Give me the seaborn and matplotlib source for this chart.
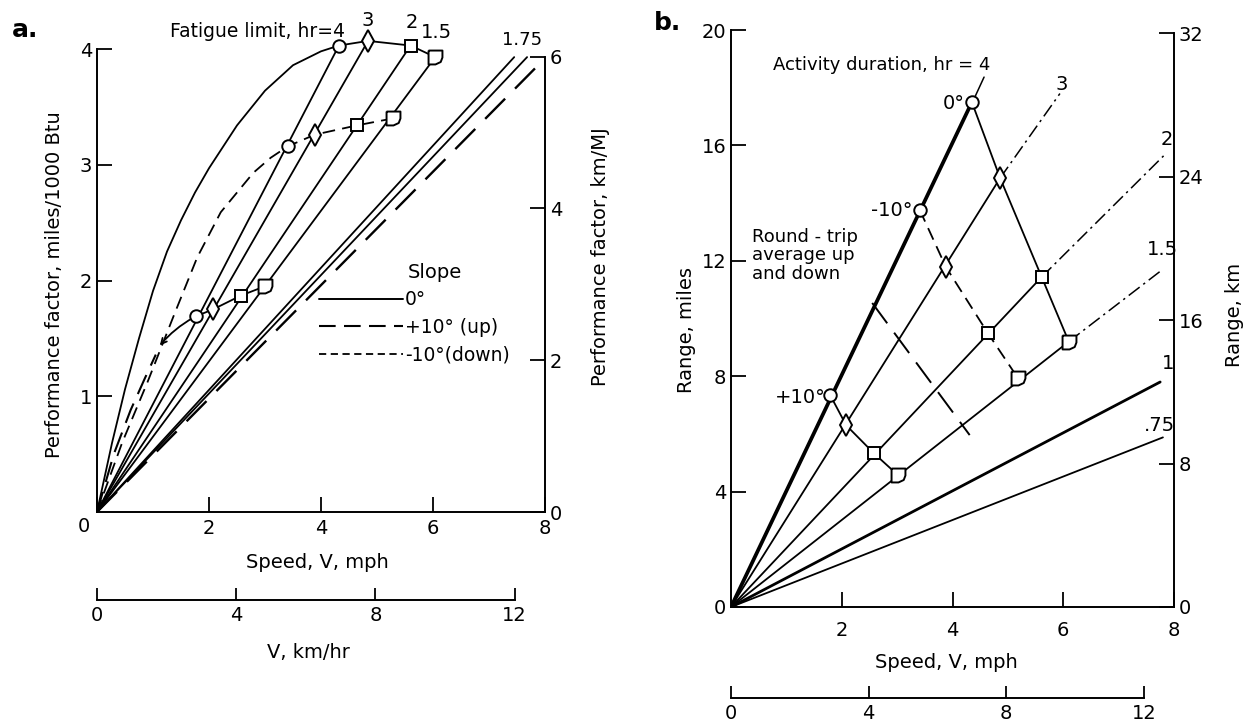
import matplotlib
matplotlib.use('Agg')
import matplotlib.pyplot as plt
from matplotlib.lines import Line2D
import seaborn as sns

# ---------------- panel a : performance factor (miles/1000 Btu) vs speed (mph)
# 0 deg slope curve (fatigue limit envelope)
level_v = [0, 0.27, 0.5, 0.75, 1.0, 1.25, 1.5, 1.75, 2.0, 2.5, 3.0, 3.5, 4.0, 4.32, 4.84, 5.6, 6.04]
level_pf = [0, 0.6, 1.06, 1.5, 1.91, 2.25, 2.52, 2.76, 2.97, 3.34, 3.64, 3.86, 3.98, 4.03, 4.07, 4.03, 3.93]
# -10 deg (down) curve
down_v = [0, 0.45, 0.9, 1.39, 1.79, 2.21, 2.5, 2.79, 3.1, 3.41, 3.89, 4.64, 5.28]
down_pf = [0, 0.6, 1.12, 1.72, 2.2, 2.59, 2.76, 2.93, 3.06, 3.16, 3.26, 3.34, 3.4]
# +10 deg (up) curve near origin
up_v = [0, 0.3, 0.6, 0.85, 1.05]
up_pf = [0, 0.5, 0.88, 1.15, 1.36]
# +10 deg fatigue points
up_pts_v = [1.76, 2.07, 2.57, 3.0]
up_pts_pf = [1.69, 1.75, 1.87, 1.95]
arrow_tip = (1.09, 1.42)
# rays from origin (fatigue limit hr = 4, 3, 2, 1.5)
ray_a_hr = ['4', '3', '2', '1.5']
ray_a_v = [4.32, 4.84, 5.6, 6.04]
ray_a_pf = [4.03, 4.07, 4.03, 3.93]
# the 1.75 pair and the long dashed ray
ray175_v = [7.45, 7.68]
ray175_pf = [3.93, 3.93]
ray_up_v = [8.0]
ray_up_pf = [3.92]

# ---------------- panel b : range (miles) vs speed (mph)
hours_b = ['4', '3', '2', '1.5', '1', '.75']
ray_b_v = [4.35, 5.94, 7.87, 7.78, 7.75, 7.8]
ray_b_r = [17.5, 17.8, 15.75, 11.68, 7.8, 5.88]
zero_v = [4.35, 4.86, 5.61, 6.1]
zero_r = [17.5, 14.87, 11.44, 9.2]
minus_v = [3.41, 3.88, 4.64, 5.18]
minus_r = [13.76, 11.79, 9.49, 7.94]
plus_v = [1.79, 2.08, 2.58, 3.01]
plus_r = [7.35, 6.3, 5.33, 4.58]
round_v = [2.55, 4.31]
round_r = [10.54, 5.96]

MI_KM = 1.609344
PF_KMMJ = 1.5253

sns.set_style('ticks')
plt.rcParams['font.family'] = ['DejaVu Sans']
plt.rcParams.update({'axes.linewidth': 1.4, 'text.color': 'k', 'axes.labelcolor': 'k',
                     'xtick.color': 'k', 'ytick.color': 'k', 'axes.edgecolor': 'k'})

W, H = 1248, 723
fig = plt.figure(figsize=(W / 100, H / 100), dpi=100)


def box(l, t, r, b):
    return [l / W, 1 - b / H, (r - l) / W, (b - t) / H]


def ftext(px, py, s, **kw):
    fig.text(px / W, 1 - py / H, s, **kw)


dshape = [(-1, 1), (1, 1), (1, 0), (0.75, -0.65), (0, -1), (-1, -1), (-1, 1)]
mks = ['o', 'd', 's', dshape]
msz = [9, 11, 9, 10]
FS = 14
LW = 1.3


def marks(ax, xs, ys):
    for x, y, m, s in zip(xs, ys, mks, msz):
        ax.plot([x], [y], marker=m, ms=s, mfc='white', mec='k', mew=1.4, zorder=5)


def style_main(ax, xmax, ymax, ytop):
    ax.set_xlim(0, 8)
    ax.set_ylim(0, ymax)
    sns.despine(ax=ax, top=True, right=True)
    ax.spines['left'].set_bounds(0, ytop)
    ax.spines['bottom'].set_bounds(0, xmax)
    ax.tick_params(direction='in', length=11, width=1.3, labelsize=FS)


def km_axis(l, r, y, pad):
    k = fig.add_axes(box(l, y - 1, r, y))
    k.set_xlim(0, 8 * MI_KM)
    k.set_yticks([])
    for s in ['left', 'right', 'top']:
        k.spines[s].set_visible(False)
    k.spines['bottom'].set_bounds(0, 12)
    k.set_xticks([0, 4, 8, 12])
    k.tick_params(axis='x', direction='in', length=9, width=1.3, labelsize=FS, pad=pad)
    k.patch.set_alpha(0)


# ================= panel a
axa = fig.add_axes(box(97, 8.5, 545, 512))
style_main(axa, 8, 4.35, 4)
axa.set_xticks([0, 2, 4, 6, 8])
axa.set_xticklabels(['', '2', '4', '6', '8'])
axa.set_yticks([1, 2, 3, 4])
axa.tick_params(axis='x', pad=5)

sns.lineplot(x=level_v, y=level_pf, ax=axa, color='k', lw=LW, sort=False, estimator=None)
axa.plot(down_v, down_pf, color='k', lw=LW, ls=(0, (7, 4)))
axa.plot(up_v, up_pf, color='k', lw=1.5, ls=(0, (10, 5)))
for v, p in zip(ray_a_v, ray_a_pf):
    sns.lineplot(x=[0, v], y=[0, p], ax=axa, color='k', lw=LW, sort=False, estimator=None)
for v, p in zip(ray175_v, ray175_pf):
    sns.lineplot(x=[0, v], y=[0, p], ax=axa, color='k', lw=LW, sort=False, estimator=None)
axa.plot([0, ray_up_v[0]], [0, ray_up_pf[0]], color='k', lw=1.7, ls=(0, (12, 6)))
axa.plot(up_pts_v, up_pts_pf, color='k', lw=LW)
axa.annotate('', xy=arrow_tip, xytext=(up_pts_v[0], up_pts_pf[0]),
             arrowprops=dict(arrowstyle='->', color='k', lw=LW,
                             connectionstyle='arc3,rad=0.1'))
marks(axa, ray_a_v, ray_a_pf)
marks(axa, down_v[-4:], down_pf[-4:])
marks(axa, up_pts_v, up_pts_pf)

axa.text(2.86, 4.15, 'Fatigue limit, hr=4', fontsize=13.5, ha='center', va='center')
for lab, x, y in zip(ray_a_hr[1:], [4.84, 5.63, 6.07], [4.25, 4.23, 4.14]):
    axa.text(x, y, lab, fontsize=14, ha='center', va='center')
axa.text(7.59, 4.08, '1.75', fontsize=13, ha='center', va='center')

handles = [Line2D([], [], color='k', lw=1.4),
           Line2D([], [], color='k', lw=1.5, ls=(0, (8, 4))),
           Line2D([], [], color='k', lw=1.3, ls=(0, (4, 2.5)))]
axa.legend(handles, ['0°', '+10° (up)', '-10°(down)'],
           loc='upper left', bbox_to_anchor=(0.495, 0.44), frameon=False,
           fontsize=13.5, handlelength=4.5, handletextpad=0.1,
           labelspacing=0.45, borderpad=0, borderaxespad=0)
ftext(435, 273, 'Slope', fontsize=14, ha='center', va='center')

axa2 = axa.twinx()
axa2.set_ylim(0, 4.35 * PF_KMMJ)
for s in ['left', 'top', 'bottom']:
    axa2.spines[s].set_visible(False)
axa2.spines['right'].set_bounds(0, 6)
axa2.set_yticks([0, 2, 4, 6])
axa2.tick_params(direction='in', length=11, width=1.3, labelsize=FS)

ftext(84, 527, '0', fontsize=FS, ha='center', va='center')
ftext(25, 30, 'a.', fontsize=18, fontweight='bold', ha='center', va='center')
ftext(55, 285, 'Performance factor, miles/1000 Btu', fontsize=FS, rotation=90, ha='center', va='center')
ftext(601, 257, 'Performance factor, km/MJ', fontsize=FS, rotation=90, ha='center', va='center')
ftext(317, 563, 'Speed, V, mph', fontsize=FS, ha='center', va='center')
ftext(308, 652, 'V, km/hr', fontsize=FS, ha='center', va='center')
km_axis(97, 545, 600, 4)

# ================= panel b
axb = fig.add_axes(box(731, 7, 1174, 607))
style_main(axb, 8, 20.8, 20)
axb.set_xticks([2, 4, 6, 8])
axb.set_yticks([0, 4, 8, 12, 16, 20])
axb.tick_params(axis='x', pad=10)

lws = [2.7, LW, LW, LW, 2.0, LW]
for i, (v, r) in enumerate(zip(ray_b_v, ray_b_r)):
    if 1 <= i <= 3:
        zv, zr = zero_v[i], zero_r[i]
        sns.lineplot(x=[0, zv], y=[0, zr], ax=axb, color='k', lw=lws[i], sort=False, estimator=None)
        axb.plot([zv, v], [zr, r], color='k', lw=1.1, ls=(0, (9, 3, 1.5, 3)))
    else:
        sns.lineplot(x=[0, v], y=[0, r], ax=axb, color='k', lw=lws[i], sort=False, estimator=None)

axb.plot(zero_v, zero_r, color='k', lw=LW)
axb.plot(minus_v, minus_r, color='k', lw=LW, ls=(0, (7, 4)))
axb.plot(plus_v, plus_r, color='k', lw=LW)
axb.plot(round_v, round_r, color='k', lw=1.4, ls=(0, (13, 6)))
marks(axb, zero_v, zero_r)
marks(axb, minus_v, minus_r)
marks(axb, plus_v, plus_r)

for lab, x, y in zip(hours_b[1:], [5.97, 7.87, 7.8, 7.9, 7.73], [18.1, 16.2, 12.4, 8.45, 6.3]):
    axb.text(x, y, lab, fontsize=14, ha='center', va='center')
axb.text(2.73, 18.8, 'Activity duration, hr = 4', fontsize=13, ha='center', va='center')
axb.plot([4.57, 4.39], [18.37, 17.62], color='k', lw=1.1)
axb.text(4.02, 17.47, '0°', fontsize=14, ha='center', va='center')
axb.text(2.9, 13.76, '-10°', fontsize=14, ha='center', va='center')
axb.text(1.25, 7.28, '+10°', fontsize=14, ha='center', va='center')
axb.text(0.38, 13.15, 'Round - trip\naverage up\nand down', fontsize=13,
         ha='left', va='top', linespacing=1.05)

axb2 = axb.twinx()
axb2.set_ylim(0, 20.8 * MI_KM)
for s in ['left', 'top', 'bottom']:
    axb2.spines[s].set_visible(False)
axb2.spines['right'].set_bounds(0, 32)
axb2.set_yticks([0, 8, 16, 24, 32])
axb2.tick_params(direction='in', length=11, width=1.3, labelsize=FS)

ftext(668, 23, 'b.', fontsize=18, fontweight='bold', ha='center', va='center')
ftext(686, 330, 'Range, miles', fontsize=FS, rotation=90, ha='center', va='center')
ftext(1235, 315, 'Range, km', fontsize=FS, rotation=90, ha='center', va='center')
ftext(946, 662, 'Speed, V, mph', fontsize=FS, ha='center', va='center')
km_axis(731, 1174, 698, 4)

fig.savefig('out.png', dpi=100)
